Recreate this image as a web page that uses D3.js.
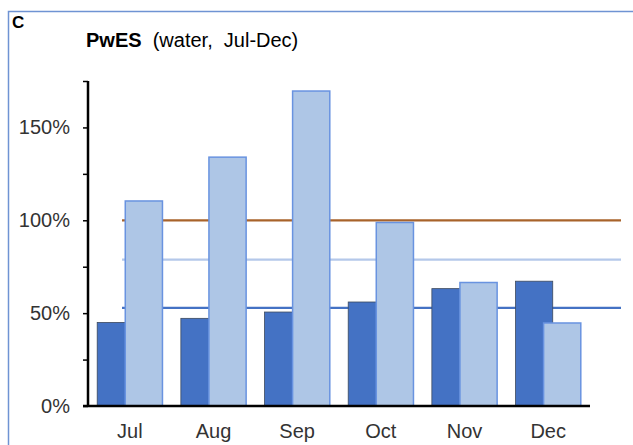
<!DOCTYPE html>
<html>
<head>
<meta charset="utf-8">
<script src="https://cdn.jsdelivr.net/npm/d3@7"></script>
<style>
  body { margin: 0; background: #fff; }
  text { font-family: "Liberation Sans", Arial, sans-serif; }
</style>
</head>
<body>
<script>
// data
var months = ["Jul", "Aug", "Sep", "Oct", "Nov", "Dec"];
var seriesDark = [45, 47.2, 50.6, 56, 63.2, 67.2];
var seriesLight = [110.4, 134, 169.6, 98.8, 66.5, 44.7];
var refLines = [
  { value: 100, color: "#a8632b" },
  { value: 78.8, color: "#b4c8ea" },
  { value: 52.8, color: "#4472c4" }
];
var yTicks = [0, 50, 100, 150];
var yMinorTicks = [25, 75, 125, 175];

var svgWidth = 633, svgHeight = 445;
var margin = { top: 81, right: 43, bottom: 39, left: 88 };
var width = svgWidth - margin.left - margin.right;
var height = svgHeight - margin.top - margin.bottom;

var svg = d3.select("body").append("svg")
  .attr("width", svgWidth)
  .attr("height", svgHeight);

// panel frame (top and left edges only)
svg.append("path")
  .attr("d", "M8.5," + svgHeight + "V11.5H" + svgWidth)
  .attr("fill", "none")
  .attr("stroke", "#6f93d3")
  .attr("stroke-width", 1.5);

svg.append("text")
  .attr("x", 12).attr("y", 28)
  .attr("font-size", "17px").attr("font-weight", "bold")
  .text("C");

var title = svg.append("text")
  .attr("x", 86).attr("y", 47)
  .attr("font-size", "20px");
title.append("tspan").attr("font-weight", "bold").text("PwES");
title.append("tspan").attr("xml:space", "preserve").text("  (water,  Jul-Dec)");

var chartGroup = svg.append("g")
  .attr("transform", "translate(" + margin.left + "," + margin.top + ")");

var x = d3.scaleBand()
  .domain(months)
  .range([0, width])
  .paddingInner(0.22)
  .paddingOuter(0.11);
var bw = x.bandwidth();
var barW = bw * 0.57;

var y = d3.scaleLinear()
  .domain([0, 175])
  .range([height, 0]);

// reference lines, behind the bars
chartGroup.selectAll(".ref")
  .data(refLines)
  .enter()
  .append("line")
  .attr("x1", x(months[0]) + bw * 0.38)
  .attr("x2", width + 31)
  .attr("y1", d => y(d.value))
  .attr("y2", d => y(d.value))
  .attr("stroke", d => d.color)
  .attr("stroke-width", 2.2);

chartGroup.selectAll(".dark")
  .data(seriesDark)
  .enter()
  .append("rect")
  .attr("x", (d, i) => x(months[i]))
  .attr("y", d => y(d))
  .attr("width", barW)
  .attr("height", d => height - y(d))
  .attr("fill", "#4472c4")
  .attr("stroke", "#3d4a5e")
  .attr("stroke-width", 0.8);

chartGroup.selectAll(".light")
  .data(seriesLight)
  .enter()
  .append("rect")
  .attr("x", (d, i) => x(months[i]) + bw - barW)
  .attr("y", d => y(d))
  .attr("width", barW)
  .attr("height", d => height - y(d))
  .attr("fill", "#aec6e6")
  .attr("stroke", "#6993e0")
  .attr("stroke-width", 1.5);

// y axis
var leftAxis = d3.axisLeft(y)
  .tickValues(yTicks)
  .tickFormat(d => d + "%")
  .tickSize(5)
  .tickPadding(13);
var yAxis = chartGroup.append("g").call(leftAxis);
yAxis.select(".domain").remove();
yAxis.selectAll("line").attr("stroke", "#000").attr("stroke-width", 1.5);
yAxis.selectAll("text")
  .attr("font-size", "20px")
  .attr("fill", "#333")
  .style("font-family", "Liberation Sans, Arial, sans-serif");

chartGroup.append("g")
  .call(d3.axisLeft(y).tickValues(yMinorTicks).tickSize(5).tickFormat(""))
  .call(g => g.select(".domain").remove())
  .selectAll("line").attr("stroke", "#000").attr("stroke-width", 1.5);

chartGroup.append("line")
  .attr("x1", 0).attr("x2", 0)
  .attr("y1", y(175)).attr("y2", height)
  .attr("stroke", "#000").attr("stroke-width", 2.5);

// x axis
var bottomAxis = d3.axisBottom(x).tickSize(0).tickPadding(18);
var xAxis = chartGroup.append("g")
  .attr("transform", "translate(0," + height + ")")
  .call(bottomAxis);
xAxis.select(".domain").remove();
xAxis.selectAll("text")
  .attr("font-size", "20px")
  .attr("fill", "#333")
  .style("font-family", "Liberation Sans, Arial, sans-serif");

chartGroup.append("line")
  .attr("x1", -5).attr("x2", width)
  .attr("y1", height).attr("y2", height)
  .attr("stroke", "#000").attr("stroke-width", 2.5);
</script>
</body>
</html>
